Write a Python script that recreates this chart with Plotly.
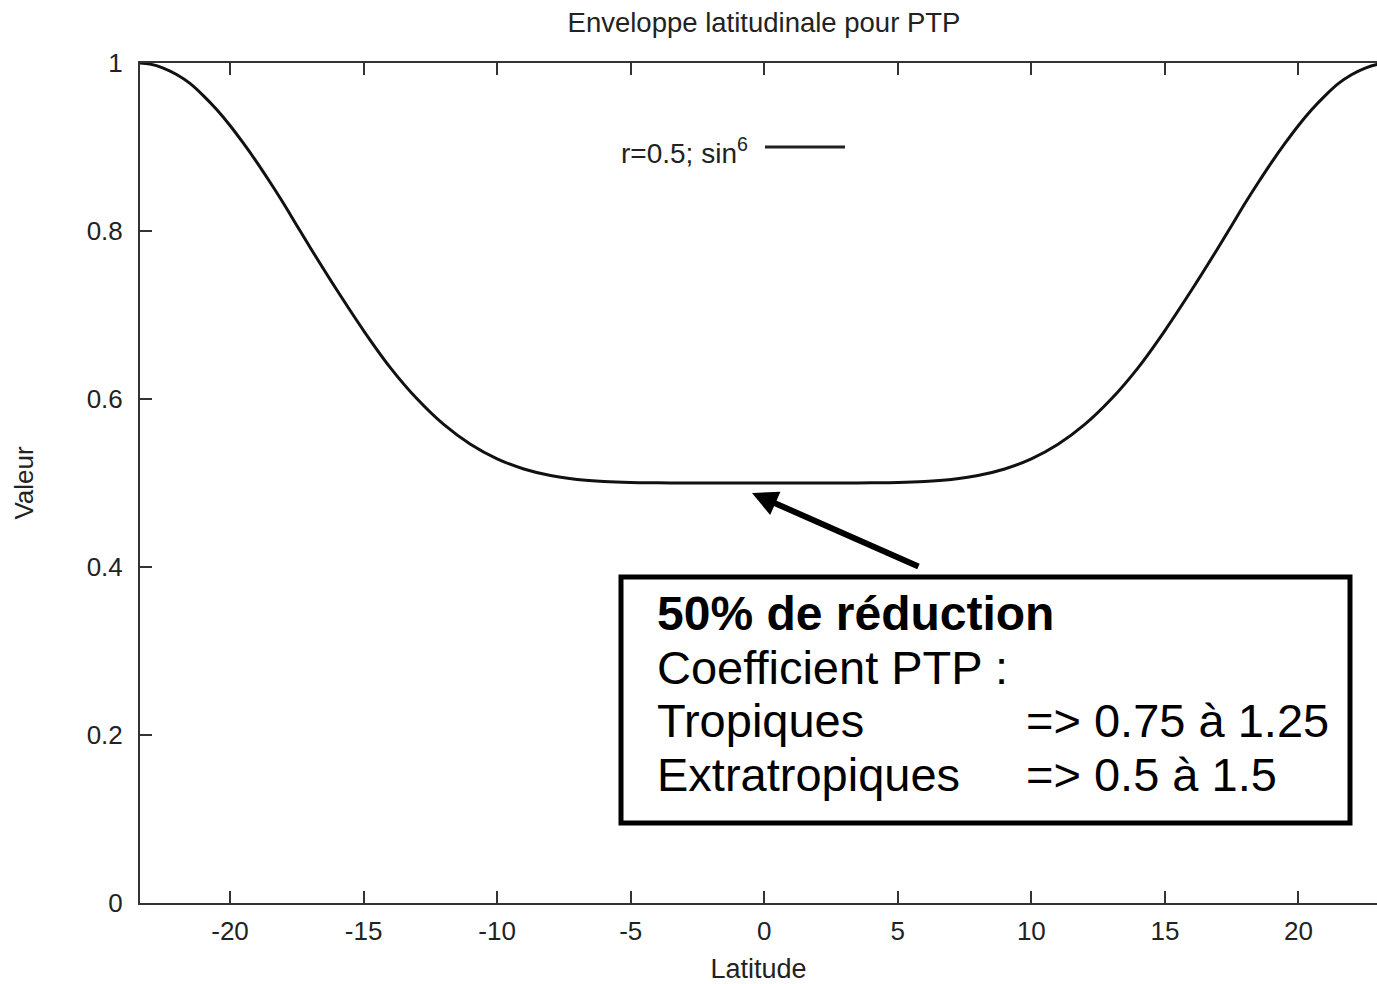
import plotly.graph_objects as go

# ---- data ----
latitude = [-23.4, -23, -22.5, -22, -21.5, -21, -20.5, -20, -19.5, -19, -18.5, -18, -17.5,
            -17, -16, -15, -14, -13, -12, -11, -10,
            -9, -8, -7, -6, -5, -4, -3, -2, -1, 0,
            1, 2, 3, 4, 5, 6, 7, 8, 9, 10, 11, 12, 13, 14, 15, 16,
            17, 17.5, 18, 18.5, 19, 19.5, 20, 20.5, 21, 21.5, 22, 22.5, 23, 23.4]
valeur = [1.0, 0.9987, 0.994, 0.9863, 0.9757, 0.9612, 0.9446, 0.9256, 0.9045, 0.882,
          0.858, 0.833, 0.8066,
          0.7804, 0.7297, 0.6815, 0.6374, 0.6002, 0.5697, 0.5461, 0.5287,
          0.5167, 0.5089, 0.5043, 0.5018, 0.5006, 0.5002, 0.5, 0.5, 0.5, 0.5,
          0.5, 0.5, 0.5, 0.5002, 0.5006, 0.5018, 0.5043, 0.5089, 0.5167, 0.5287, 0.5461,
          0.5697, 0.6002, 0.6374, 0.6815, 0.7297,
          0.7804, 0.8066, 0.833, 0.858, 0.882, 0.9045, 0.9256, 0.9446, 0.9612, 0.9757,
          0.9863, 0.994, 0.9987, 1.0]
series_name = "r=0.5; sin<sup>6</sup>"
x_ticks = [-20, -15, -10, -5, 0, 5, 10, 15, 20]
y_ticks = [0, 0.2, 0.4, 0.6, 0.8, 1]
y_tick_labels = ["0", "0.2", "0.4", "0.6", "0.8", "1"]
box_lines = ["<b>50% de réduction</b>", "Coefficient PTP :", "Tropiques", "Extratropiques"]
box_values = ["=> 0.75 à 1.25", "=> 0.5 à 1.5"]

W, H = 1377, 984
ML, MR, MT, MB = 140, 0, 63, 81
PW, PH = W - ML - MR, H - MT - MB
FONT = "Liberation Sans, Arial, sans-serif"
TXT = "#222222"


def px(xp):
    return (xp - ML) / PW


def py(yp):
    return 1 - (yp - MT) / PH


fig = go.Figure()
fig.add_trace(go.Scatter(x=latitude, y=valeur, mode="lines", name="r=0.5; sin6",
                         line=dict(color="#111111", width=3, shape="spline", smoothing=1),
                         showlegend=False, hoverinfo="x+y"))

ann = []
# legend text + key
ann.append(dict(xref="paper", yref="paper", x=px(750), y=py(151), text=series_name,
                showarrow=False, xanchor="right", yanchor="middle",
                font=dict(family=FONT, size=28, color=TXT)))
shapes = [dict(type="line", xref="paper", yref="paper", x0=px(765), x1=px(845),
               y0=py(147), y1=py(147), line=dict(color="#222222", width=3))]

# annotation box
shapes.append(dict(type="rect", xref="paper", yref="paper", x0=px(621), x1=px(1350),
                   y0=py(577), y1=py(823), line=dict(color="black", width=5),
                   fillcolor="white", layer="above"))
line_y = [613, 667, 720, 774]
line_size = [48, 47, 47, 47]
for t, yy, fs in zip(box_lines, line_y, line_size):
    ann.append(dict(xref="paper", yref="paper", x=px(655), y=py(yy), text=t,
                    showarrow=False, xanchor="left", yanchor="middle",
                    font=dict(family=FONT, size=fs, color="black")))
for t, yy in zip(box_values, line_y[2:]):
    ann.append(dict(xref="paper", yref="paper", x=px(1024), y=py(yy), text=t,
                    showarrow=False, xanchor="left", yanchor="middle",
                    font=dict(family=FONT, size=47, color="black")))

# arrow
ann.append(dict(x=-0.46, y=0.488, xref="x", yref="y", text="", showarrow=True,
                ax=168, ay=74, axref="pixel", ayref="pixel",
                arrowhead=2, arrowsize=0.85, arrowwidth=6, arrowcolor="black"))

axis_common = dict(showline=True, linecolor="#333333", linewidth=2,
                   ticks="inside", ticklen=12, tickwidth=2, tickcolor="#333333",
                   showgrid=False, zeroline=False,
                   tickfont=dict(family=FONT, size=26, color=TXT))

fig.update_layout(
    width=W, height=H,
    margin=dict(l=ML, r=MR, t=MT, b=MB, pad=0),
    paper_bgcolor="white", plot_bgcolor="white",
    title=dict(text="Enveloppe latitudinale pour PTP", x=764 / W, xref="container",
               xanchor="center", y=1 - 22 / H, yref="container", yanchor="middle",
               font=dict(family=FONT, size=27.5, color=TXT)),
    xaxis=dict(range=[-23.37, 22.94], tickvals=x_ticks, ticktext=[str(v) for v in x_ticks],
               title=dict(text="Latitude", font=dict(family=FONT, size=27, color=TXT), standoff=18),
               ticklabelstandoff=4, mirror="ticks", **axis_common),
    yaxis=dict(range=[0, 1], tickvals=y_ticks, ticktext=y_tick_labels,
               title=dict(text="Valeur", font=dict(family=FONT, size=26, color=TXT), standoff=46),
               ticklabelstandoff=10, mirror=False, **axis_common),
    annotations=ann, shapes=shapes, showlegend=False,
)

fig.write_html("out.html")
